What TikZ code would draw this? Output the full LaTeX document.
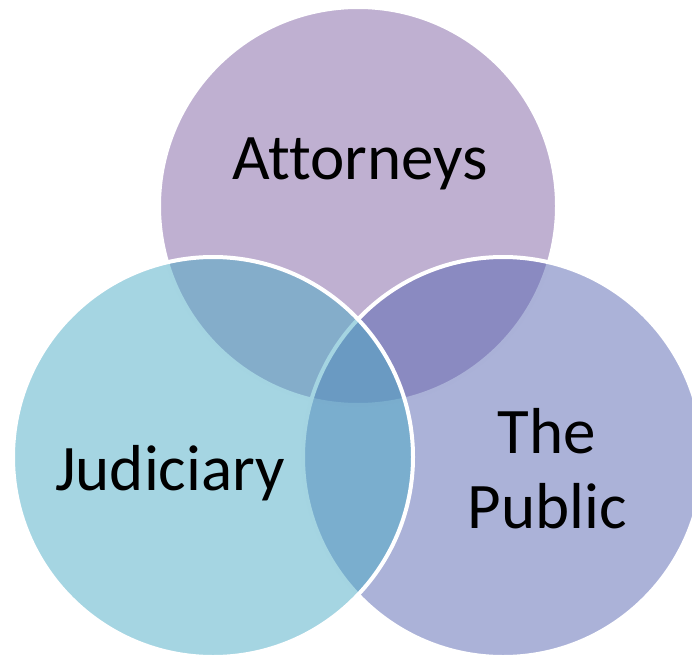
\documentclass[tikz,border=0pt]{standalone}
\usepackage{fontspec}
\setmainfont[Ligatures=NoCommon]{Carlito}
\definecolor{attyc}{RGB}{127,97,163}
\definecolor{judc}{RGB}{75,171,197}
\definecolor{pubc}{RGB}{87,101,177}
\tikzset{
  venn/.style={draw=white, line width=4pt, fill opacity=0.5, draw opacity=1},
  label/.style={text=black, inner sep=0pt, font=\fontsize{65}{75}\selectfont}
}
\begin{document}
\begin{tikzpicture}[x=1pt,y=-1pt]
  \useasboundingbox (0,0) rectangle (692,658);
  \clip (0,0) rectangle (692,658);
  % three overlapping circles, drawn top, right, left
  \path[venn, fill=attyc] (358,206) circle[radius=199];
  \path[venn, fill=pubc]  (503,457) circle[radius=200];
  \path[venn, fill=judc]  (213,457) circle[radius=200];
  % labels (base anchor of the two-line label is its last line)
  \node[label, anchor=base] (atty) at (360,179) {Attorneys};
  \node[label, anchor=base] (jud)  at (170,490) {Judiciary};
  \node[label, anchor=base, align=center] (pub) at (547,528) {The\\Public};
\end{tikzpicture}
\end{document}
